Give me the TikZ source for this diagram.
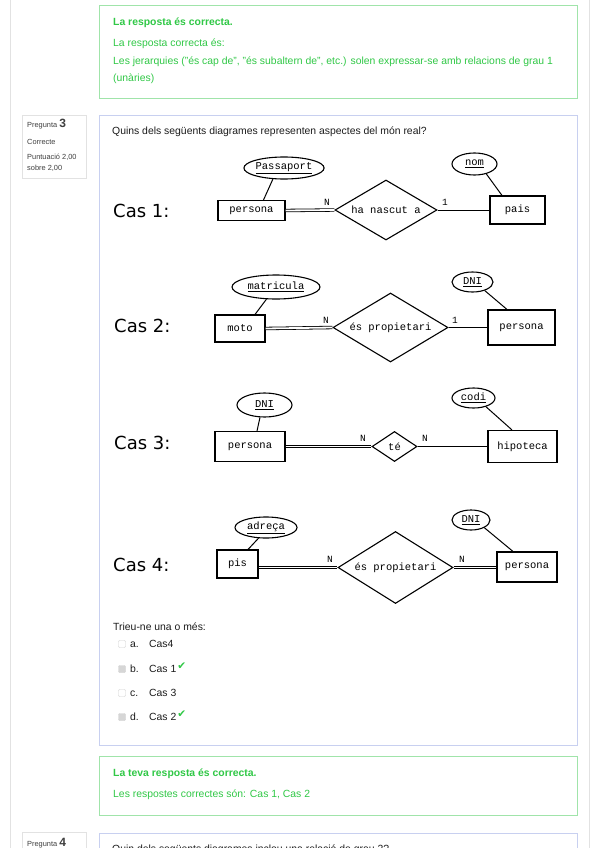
\documentclass[tikz,border=0pt]{standalone}
\usepackage{fontspec}
\setmainfont{Liberation Sans}
\newfontfamily\ermono{Liberation Mono}
\newfontfamily\casfont{DejaVu Sans}
\usetikzlibrary{shapes.geometric}
\definecolor{okgreen}{RGB}{48,200,70}
\definecolor{okframe}{RGB}{160,228,170}
\definecolor{qframe}{RGB}{200,208,240}
\definecolor{pagegray}{RGB}{226,226,226}
\definecolor{uitext}{RGB}{28,28,28}
\tikzset{
  erent/.style={draw=black, line width=1.1pt, font=\ermono\fontsize{10.5}{12}\selectfont, inner sep=0pt},
  erattr/.style={ellipse, draw=black, line width=1.1pt, font=\ermono\fontsize{10.5}{12}\selectfont, inner sep=0pt},
  errel/.style={diamond, aspect=1.6, draw=black, line width=1.1pt, font=\ermono\fontsize{10.5}{12}\selectfont, inner sep=0pt},
  erlink/.style={line width=1pt, draw=black},
  ertotal/.style={double=white, double distance=1.8pt, line width=0.8pt, draw=black},
  ercard/.style={font=\ermono\fontsize{9.5}{10}\selectfont, inner sep=0pt, anchor=base},
  caslbl/.style={font=\casfont\fontsize{18}{20}\selectfont, anchor=west, inner sep=0pt},
  uitxt/.style={font=\fontsize{10.4}{12}\selectfont, text=uitext, anchor=base west, inner sep=0pt},
  oktxt/.style={font=\fontsize{10.4}{12}\selectfont, text=okgreen, anchor=base west, inner sep=0pt},
  infotxt/.style={font=\fontsize{7.4}{9}\selectfont, text=uitext!85, anchor=base west, inner sep=0pt},
  okbox/.style={draw=okframe, line width=1pt, fill=white},
  qbox/.style={draw=qframe, line width=1pt, fill=white},
  infobox/.style={draw=pagegray, line width=0.8pt, fill=white},
  tickbox/.style={draw=black!18, fill=white, rounded corners=1pt, minimum size=7pt, inner sep=0pt},
  tickon/.style={tickbox, fill=black!16},
  tickmark/.style={font=\casfont\fontsize{10.5}{10}\selectfont, text=okgreen, anchor=base west, inner sep=0pt},
}

\begin{document}
\begin{tikzpicture}[x=1pt, y=-1pt]
\useasboundingbox (0,0) rectangle (599,848);
\fill[white] (0,0) rectangle (599,848);
\draw[pagegray, line width=0.8pt] (10,0) -- (10,848);
\draw[pagegray, line width=0.8pt] (589,0) -- (589,848);

% feedback of the previous question
\draw[okbox] (99,6) rectangle (577,99);
\node[oktxt, font=\fontsize{10.4}{12}\selectfont\bfseries] (prevok) at (113,26) {La resposta és correcta.};
\node[oktxt] (prevans) at (113,46.5) {La resposta correcta és:};
\node[oktxt] (prevans2) at (113,64.5) {Les jerarquies ("és cap de", "és subaltern de", etc.) solen expressar-se amb relacions de grau 1};
\node[oktxt] (prevans3) at (113,82) {(unàries)};

% question info
\draw[infobox] (22,115) rectangle (86,178);
\node[infotxt] (qnum) at (27,128) {Pregunta \fontsize{12}{12}\selectfont\bfseries 3};
\node[infotxt] (qstate) at (27,144) {Correcte};
\node[infotxt] (qmark) at (27,159.5) {Puntuació 2,00};
\node[infotxt] (qmark2) at (27,170.5) {sobre 2,00};

% question
\draw[qbox] (99,116) rectangle (577,745);
\node[uitxt] (qtext) at (112,135) {Quins dels següents diagrames representen aspectes del món real?};

% Cas 1
\node[caslbl] (cas1) at (113,211) {Cas 1:};
\node[erent, minimum width=67pt, minimum height=20pt] (per1) at (251.5,210.5) {persona};
\node[erattr, minimum width=73pt, minimum height=22pt] (pas1) at (284,168) {\underline{Passaport}};
\node[errel, minimum width=102pt, minimum height=60pt] (rel1) at (386,210) {ha nascut a};
\node[erent, minimum width=55pt, minimum height=28pt] (pais1) at (517.5,210) {pais};
\node[erattr, minimum width=45pt, minimum height=22pt] (nom1) at (474.5,164) {\underline{nom}};
\draw[ertotal] (per1.east) -- (rel1.west);
\draw[erlink] (rel1.east) -- (pais1.west);
\draw[erlink] (pas1.225) -- ([xshift=12pt]per1.north);
\draw[erlink] (nom1.320) -- ([xshift=-15.5pt]pais1.north);
\node[ercard] (c1n) at (327,205.5) {N};
\node[ercard] (c1o) at (445,205.5) {1};

% Cas 2
\node[caslbl] (cas2) at (114,326) {Cas 2:};
\node[erent, minimum width=50pt, minimum height=27pt] (moto2) at (240,328.5) {moto};
\node[erattr, minimum width=88pt, minimum height=24pt] (mat2) at (276,287) {\underline{matricula}};
\node[errel, minimum width=115pt, minimum height=69pt] (rel2) at (390.5,327.5) {és propietari};
\node[erent, minimum width=67pt, minimum height=35pt] (per2) at (521.5,327.5) {persona};
\node[erattr, minimum width=41pt, minimum height=20pt] (dni2) at (472.5,282) {\underline{DNI}};
\draw[ertotal] (moto2.east) -- (rel2.west);
\draw[erlink] (rel2.east) -- (per2.west);
\draw[erlink] (mat2.232) -- ([xshift=15pt]moto2.north);
\draw[erlink] (dni2.325) -- ([xshift=-14.5pt]per2.north);
\node[ercard] (c2n) at (326,323) {N};
\node[ercard] (c2o) at (455,323) {1};

% Cas 3
\node[caslbl] (cas3) at (114,443) {Cas 3:};
\node[erent, minimum width=70pt, minimum height=30pt] (per3) at (250,446.5) {persona};
\node[erattr, minimum width=55pt, minimum height=24pt] (dni3) at (264.5,405) {\underline{DNI}};
\node[errel, minimum width=45pt, minimum height=30pt] (rel3) at (394.5,446.5) {té};
\node[erent, minimum width=69pt, minimum height=32pt] (hip3) at (522.5,446.5) {hipoteca};
\node[erattr, minimum width=43pt, minimum height=20pt] (codi3) at (473.5,398) {\underline{codi}};
\draw[ertotal] (per3.east) -- (rel3.west);
\draw[erlink] (rel3.east) -- (hip3.west);
\draw[erlink] (dni3.250) -- ([xshift=7pt]per3.north);
\draw[erlink] (codi3.325) -- ([xshift=-10.5pt]hip3.north);
\node[ercard] (c3n) at (363,441) {N};
\node[ercard] (c3m) at (425,441) {N};

% Cas 4
\node[caslbl] (cas4) at (113,565) {Cas 4:};
\node[erent, minimum width=41pt, minimum height=28pt] (pis4) at (237.5,564) {pis};
\node[erattr, minimum width=62pt, minimum height=21pt] (adr4) at (266,527.5) {\underline{adreça}};
\node[errel, minimum width=115pt, minimum height=72pt] (rel4) at (395.5,567.5) {és propietari};
\node[erent, minimum width=60pt, minimum height=30pt] (per4) at (527,567) {persona};
\node[erattr, minimum width=38pt, minimum height=20pt] (dni4) at (471,520) {\underline{DNI}};
\draw[ertotal] (rel4.west -| pis4.east) -- (rel4.west);
\draw[ertotal] (rel4.east) -- (rel4.east -| per4.west);
\draw[erlink] (adr4.235) -- ([xshift=10.5pt]pis4.north);
\draw[erlink] (dni4.330) -- ([xshift=-14pt]per4.north);
\node[ercard] (c4n) at (330,562) {N};
\node[ercard] (c4m) at (462,562) {N};

% choices
\node[uitxt] (pick) at (113,630.5) {Trieu-ne una o més:};
\node[tickbox] (boxa) at (122,644) {};
\node[tickon] (boxb) at (122,669) {};
\node[tickbox] (boxc) at (122,693) {};
\node[tickon] (boxd) at (122,717) {};
\node[uitxt] (lbla) at (130,647.5) {a.};
\node[uitxt] (lblb) at (130,672.5) {b.};
\node[uitxt] (lblc) at (130,696.5) {c.};
\node[uitxt] (lbld) at (130,720.5) {d.};
\node[uitxt] (ansa) at (149,647.5) {Cas4};
\node[uitxt] (ansb) at (149,672.5) {Cas 1};
\node[uitxt] (ansc) at (149,696.5) {Cas 3};
\node[uitxt] (ansd) at (149,720.5) {Cas 2};
\node[tickmark] (okb) at ([xshift=0.5pt, yshift=3pt]ansb.base east) {✔};
\node[tickmark] (okd) at ([xshift=0.5pt, yshift=3pt]ansd.base east) {✔};

% feedback
\draw[okbox] (99,756) rectangle (577,815);
\node[oktxt, font=\fontsize{10.4}{12}\selectfont\bfseries] (fbok) at (113,776.5) {La teva resposta és correcta.};
\node[oktxt] (fbans) at (113,797.5) {Les respostes correctes són: Cas 1, Cas 2};

% next question
\begin{scope}
\clip (0,0) rectangle (599,848);
\draw[infobox] (22,832) rectangle (86,880);
\node[infotxt] (qnum4) at (27,846) {Pregunta \fontsize{12}{12}\selectfont\bfseries 4};
\draw[qbox] (99,833) rectangle (577,900);
\node[uitxt] (qtext4) at (112,852) {Quin dels següents diagrames inclou una relació de grau 2?};
\end{scope}
\end{tikzpicture}
\end{document}
